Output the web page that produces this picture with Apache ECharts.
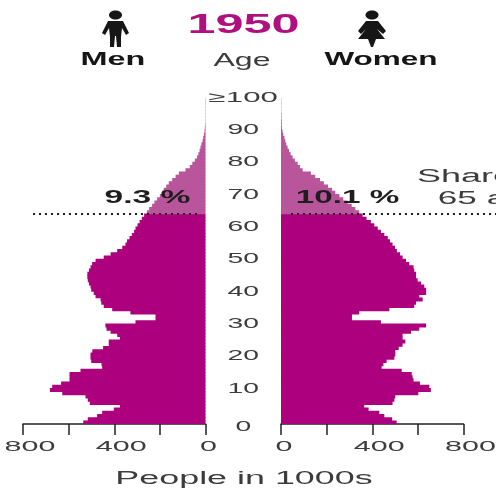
<!DOCTYPE html>
<html>
<head>
<meta charset="utf-8">
<style>html,body{margin:0;padding:0;background:#fff}#c{width:496px;height:489px}</style>
<script src="https://cdn.jsdelivr.net/npm/echarts@6/dist/echarts.min.js"></script>
</head>
<body>
<div id="c"></div>
<script>
const men = [536,516,475,453,402,375,507,516,526,628,682,672,633,596,596,596,548,453,456,501,
504,504,496,449,424,424,375,387,416,434,439,307,219,219,329,409,446,457,460,482,
490,501,504,511,516,518,518,511,504,497,482,446,416,387,365,351,344,333,323,313,
307,298,289,279,269,257,247,234,224,212,200,190,183,172,161,146,131,117,88,69,
58,47,37,31,26,22,18,13,10,7,4,3,2,1,1,1,1,1,1,1,1];
const women = [507,487,453,431,384,365,489,497,501,602,657,650,609,581,577,573,529,441,449,463,
497,501,501,516,533,545,533,533,570,606,636,438,311,311,343,475,584,592,621,606,
636,636,628,614,599,592,592,584,581,562,548,533,522,508,500,489,478,468,453,438,
424,409,394,375,358,343,326,310,292,273,256,238,224,206,188,171,150,131,95,83,
73,61,51,42,35,29,23,19,15,10,7,4,3,3,2,2,1,1,1,1,1];
const ages = men.map((_, i) => String(i));
const ageTicks = [0,10,20,30,40,50,60,70,80,90,100];
const valueTicks = [0,400,800];
const seniorAge = 65;
const title = '1950', shareMen = '9.3 %', shareWomen = '10.1 %';

const DARK = '#ad007e', LIGHT = '#b9559b';
const color = p => (p.dataIndex >= seniorAge ? LIGHT : DARK);
const chart = echarts.init(document.getElementById('c'), null, {renderer:'canvas'});

const xAxisBase = {
  type:'value', min:0, max:800, interval:200,
  axisLine:{show:true, onZero:false, lineStyle:{color:'#222', width:1.5}},
  axisTick:{show:true, length:11, lineStyle:{color:'#222', width:1.5}},
  axisLabel:{show:false}, splitLine:{show:false}
};
const yAxisBase = {type:'category', data:ages, show:false, boundaryGap:true};
const barBase = {type:'bar', barWidth:4, itemStyle:{color}, silent:true, animation:false};

chart.setOption({
  animation:false,
  grid:[
    {left:23, width:182.5, top:97.5, bottom:65},
    {left:281, width:182.5, top:97.5, bottom:65}
  ],
  xAxis:[
    Object.assign({gridIndex:0, inverse:true}, xAxisBase),
    Object.assign({gridIndex:1}, xAxisBase)
  ],
  yAxis:[
    Object.assign({gridIndex:0}, yAxisBase),
    Object.assign({gridIndex:1}, yAxisBase)
  ],
  series:[
    Object.assign({name:'Men', xAxisIndex:0, yAxisIndex:0, data:men}, barBase),
    Object.assign({name:'Women', xAxisIndex:1, yAxisIndex:1, data:women}, barBase)
  ]
});

const FONT = '"Liberation Sans", Arial, sans-serif';
function txt(text, x, y, size, sx, fill, weight){
  return {type:'text', x, y, scaleX:sx, z:20,
    style:{text, fill, font:(weight||'normal')+' '+size+'px '+FONT, align:'center', verticalAlign:'middle'}};
}
const GRAY = '#3c3c3c';
const els = [];
// Headline texts
els.push(txt(title, 243.5, 25, 28, 1.8, '#b0107f', 'bold'));
els.push(txt('Men', 113, 60, 18, 1.8, '#151515', 'bold'));
els.push(txt('Age', 242, 61, 18, 1.78, GRAY));
els.push(txt('Women', 381, 60, 18, 1.75, '#151515', 'bold'));
els.push(txt('People in 1000s', 244, 479, 17.5, 2.05, GRAY));
// Age labels from the category scale
const gapX = (chart.convertToPixel({xAxisIndex:0}, 0) + chart.convertToPixel({xAxisIndex:1}, 0)) / 2;
ageTicks.forEach(a => {
  const y = chart.convertToPixel({yAxisIndex:0}, String(a));
  els.push(txt(a === 100 ? '≥100' : String(a), gapX, y + (a === 0 ? 5 : -1.5), 14.5, a === 100 ? 2.15 : 1.95, GRAY));
});
// Value labels from the value scales
valueTicks.forEach(v => {
  const off = v === 0 ? 3 : 7;
  els.push(txt(String(v), chart.convertToPixel({xAxisIndex:0}, v) + off, 447, 14.5, 2.1, GRAY));
  els.push(txt(String(v), chart.convertToPixel({xAxisIndex:1}, v) + off, 447, 14.5, 2.1, GRAY));
});
// 65-year divider
const yDiv = (chart.convertToPixel({yAxisIndex:0}, String(seniorAge-1)) + chart.convertToPixel({yAxisIndex:0}, String(seniorAge))) / 2;
const dash = {stroke:'#1a1a1a', lineWidth:2, lineDash:[2,4]};
els.push({type:'line', z:15, shape:{x1:33, y1:yDiv, x2:197, y2:yDiv}, style:dash});
els.push({type:'line', z:15, shape:{x1:291, y1:yDiv, x2:496, y2:yDiv}, style:dash});
// Shares
els.push(txt(shareMen, 147.5, 198, 19, 1.77, '#1e1e1e', 'bold'));
els.push(txt(shareWomen, 347.5, 198, 19, 1.75, '#1e1e1e', 'bold'));
els.push(txt('Share', 465, 177, 18, 2.0, GRAY));
els.push(txt('65 a', 472, 199, 18, 1.95, GRAY));
// Pictograms
const ink = '#161616';
els.push({type:'ellipse', z:20, shape:{cx:115.5, cy:15, rx:6.5, ry:4.5}, style:{fill:ink}});
els.push({type:'polygon', z:20, shape:{points:[[108,21],[123,21],[129,33],[126,35],[122,28],[121,37],[121,47],[117,47],[116,36],[115,36],[114,47],[110,47],[110,37],[109,28],[105,35],[102,33]]}, style:{fill:ink}});
els.push({type:'ellipse', z:20, shape:{cx:372, cy:15, rx:6.5, ry:4.5}, style:{fill:ink}});
els.push({type:'polygon', z:20, shape:{points:[[366,21],[378,21],[386,31],[383,34],[377,29],[385,39],[376,39],[373,47],[371,47],[368,39],[358,39],[366,29],[361,34],[358,31]]}, style:{fill:ink}});
chart.setOption({graphic:{elements:els}});
</script>
</body>
</html>
